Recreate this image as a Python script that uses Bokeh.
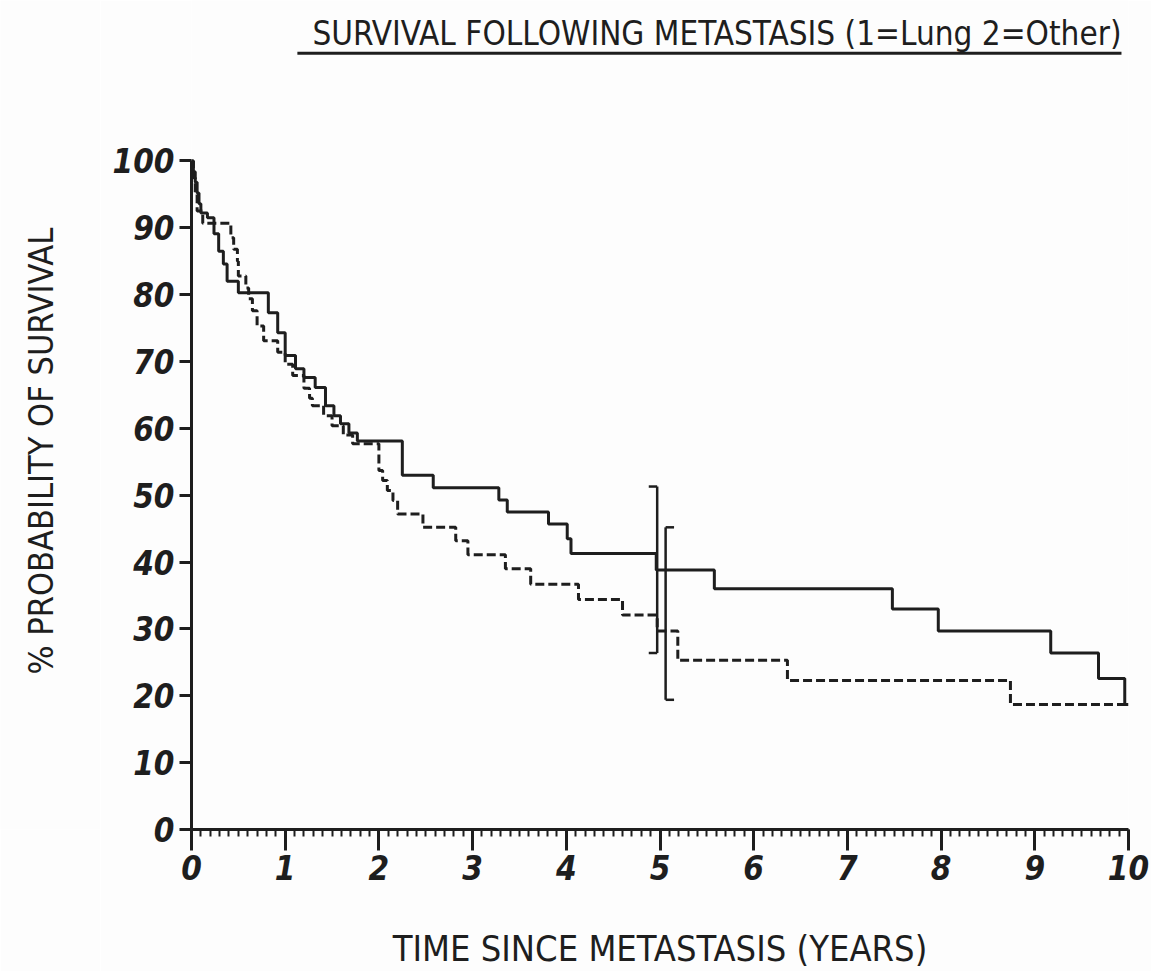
import math
from bokeh.plotting import figure
from bokeh.layouts import row
from bokeh.models import Range1d, SingleIntervalTicker
from bokeh.core.properties import value
from bokeh.embed import file_html
from bokeh.resources import INLINE

# Kaplan-Meier estimates: step times (years) and % surviving after each step
lung_t = [0.00, 0.02, 0.04, 0.06, 0.08, 0.10, 0.17, 0.24, 0.29, 0.34, 0.38, 0.50,
          0.82, 0.92, 1.00, 1.11, 1.20, 1.32, 1.43, 1.52, 1.59, 1.68, 1.77,
          2.25, 2.58, 3.28, 3.37, 3.81, 4.01, 4.05, 4.96, 5.58, 7.48, 7.97,
          9.17, 9.68, 9.96, 10.00]
lung_s = [100, 98.4, 96.8, 95.2, 93.6, 92.2, 91.5, 89.1, 86.5, 84.6, 82.0, 80.3,
          77.3, 74.3, 70.9, 68.9, 67.6, 66.1, 63.4, 61.9, 60.7, 59.3, 58.1,
          53.0, 51.1, 49.3, 47.5, 45.7, 43.5, 41.3, 38.8, 36.0, 33.0, 29.7,
          26.4, 22.6, 18.7, 18.7]

other_t = [0.00, 0.02, 0.04, 0.06, 0.12, 0.42, 0.45, 0.49, 0.50, 0.58,
           0.61, 0.65, 0.70, 0.77, 0.92, 1.00, 1.08, 1.20, 1.26, 1.29,
           1.41, 1.50, 1.62, 1.72, 2.00, 2.04, 2.09, 2.15, 2.20, 2.47,
           2.82, 2.95, 3.35, 3.62, 4.13, 4.60, 4.97, 5.19, 6.36, 8.74, 10.00]
other_s = [100, 97.5, 95.0, 92.5, 90.7, 88.5, 86.8, 85.0, 82.8, 81.0,
           79.4, 77.6, 75.3, 73.1, 71.4, 69.6, 67.9, 66.0, 64.5, 63.4,
           61.9, 60.4, 59.0, 57.7, 53.7, 52.2, 50.7, 49.2, 47.2, 45.2,
           43.2, 41.1, 39.0, 36.7, 34.4, 32.1, 29.7, 25.3, 22.3, 18.7, 18.7]

# 5-year confidence intervals (lung, other)
ci_t = [4.97, 5.06]
ci_lo = [26.4, 19.4]
ci_hi = [51.3, 45.2]
ci_side = [-1, 1]  # caps drawn to the left for lung, to the right for other

title_text = "SURVIVAL FOLLOWING METASTASIS (1=Lung 2=Other)"
x_title = "TIME SINCE METASTASIS (YEARS)"
y_title = "% PROBABILITY OF SURVIVAL"

INK = "#1e1e1e"
PAPER = "#fdfdfd"
FONT = "DejaVu Sans Condensed"
H = 971
LABEL_W = 100     # strip holding the vertical axis title
BOTTOM = 142      # room under the frame for tick labels and x title

# the frame reaches the top of the page; the heading sits above 100 %
y_range = Range1d(0, 124)

# ---- strip with the vertical axis title ----
side = figure(width=LABEL_W, height=H, output_backend="svg", toolbar_location=None,
              x_range=Range1d(0, LABEL_W), y_range=y_range,
              min_border_left=0, min_border_right=0,
              min_border_top=0, min_border_bottom=BOTTOM,
              outline_line_color=None)
side.axis.visible = False
side.grid.visible = False
side.background_fill_color = PAPER
side.border_fill_color = PAPER
side.text(x=[40], y=[56.6], text=[y_title], angle=math.pi / 2,
          text_align="center", text_baseline="middle",
          text_font=value(FONT), text_font_size="34px", text_color=INK)

# ---- main survival chart ----
p = figure(width=1151 - LABEL_W, height=H, output_backend="svg",
           toolbar_location=None, x_range=Range1d(0, 10), y_range=y_range,
           min_border_left=91, min_border_right=23,
           min_border_top=0, min_border_bottom=BOTTOM)
p.grid.visible = False
p.outline_line_color = None
p.background_fill_color = PAPER
p.border_fill_color = PAPER

# underlined heading
p.text(x=[9.925], y=[119.0], text=[title_text], text_align="right",
       text_baseline="middle", text_font=value(FONT),
       text_font_size="33px", text_color=INK)
p.segment(x0=[1.13], y0=[116.1], x1=[9.925], y1=[116.1],
          line_color=INK, line_width=3)

# survival curves
p.step(lung_t, lung_s, mode="after", line_color=INK, line_width=3)
p.step(other_t, other_s, mode="after", line_color=INK, line_width=3,
       line_dash="9 4")

# confidence bars with one-sided caps
cap = 0.09
p.segment(x0=ci_t, y0=ci_lo, x1=ci_t, y1=ci_hi, line_color=INK, line_width=2.5)
cap_x1 = [t + s * cap for t, s in zip(ci_t, ci_side)]
p.segment(x0=ci_t, y0=ci_lo, x1=cap_x1, y1=ci_lo, line_color=INK, line_width=2.5)
p.segment(x0=ci_t, y0=ci_hi, x1=cap_x1, y1=ci_hi, line_color=INK, line_width=2.5)

# x axis
xa = p.xaxis[0]
xa.ticker = SingleIntervalTicker(interval=1, num_minor_ticks=10)
xa.axis_line_color = INK
xa.axis_line_width = 3
xa.major_tick_line_color = INK
xa.major_tick_line_width = 3
xa.major_tick_in = 0
xa.major_tick_out = 21
xa.minor_tick_line_color = INK
xa.minor_tick_line_width = 2
xa.minor_tick_in = 0
xa.minor_tick_out = 7
xa.major_label_text_font = FONT
xa.major_label_text_font_size = "33px"
xa.major_label_text_font_style = "bold italic"
xa.major_label_text_color = INK
xa.major_label_standoff = 4
xa.axis_label = x_title
xa.axis_label_text_font = FONT
xa.axis_label_text_font_size = "36px"
xa.axis_label_text_font_style = "normal"
xa.axis_label_text_color = INK
xa.axis_label_standoff = 45

# y axis, limited to 0-100 %
ya = p.yaxis[0]
ya.bounds = (0, 100)
ya.ticker = SingleIntervalTicker(interval=10, num_minor_ticks=0)
ya.axis_line_color = INK
ya.axis_line_width = 3
ya.major_tick_line_color = INK
ya.major_tick_line_width = 3
ya.major_tick_in = 0
ya.major_tick_out = 12
ya.minor_tick_line_color = None
ya.major_label_text_font = FONT
ya.major_label_text_font_size = "33px"
ya.major_label_text_font_style = "bold italic"
ya.major_label_text_color = INK
ya.major_label_standoff = 5

open("out.html", "w").write(file_html(row(side, p), INLINE))
